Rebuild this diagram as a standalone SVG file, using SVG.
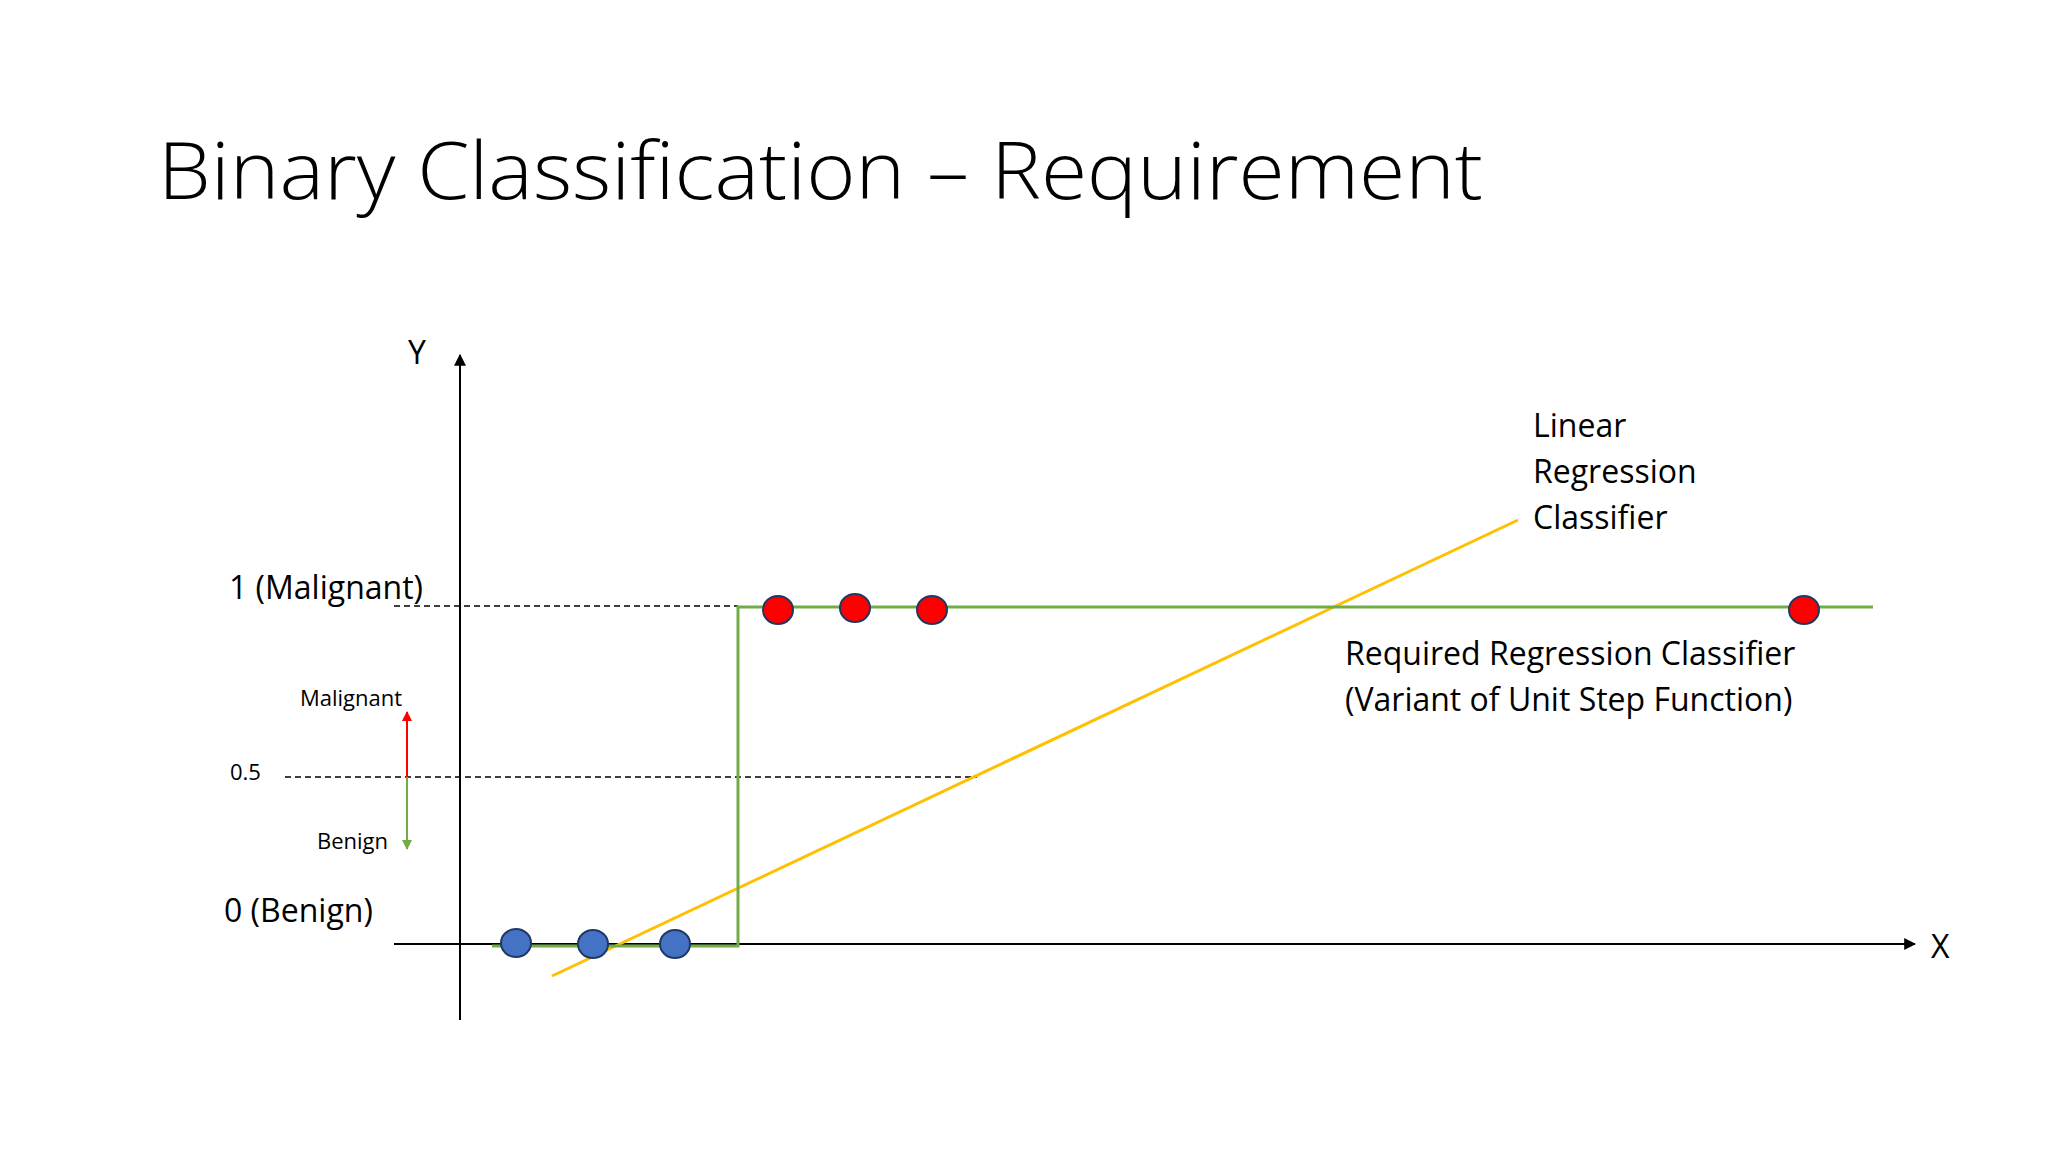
<svg xmlns="http://www.w3.org/2000/svg" width="2048" height="1152" viewBox="0 0 2048 1152">
<defs>
<style>
text{font-family:"Open Sans","Liberation Sans",sans-serif;fill:#000}
.lbl{font-size:32px}
.sm{font-size:22px}
.dash{stroke:#000;stroke-width:1.5;stroke-dasharray:6 4;fill:none}
.green{stroke:#70ad47;stroke-width:3;fill:none}
.red{fill:#ff0000;stroke:#1f3864;stroke-width:2}
.blue{fill:#4472c4;stroke:#1f3864;stroke-width:2}
</style>
<marker id="ab" viewBox="0 0 10 10" refX="9" refY="5" markerWidth="6" markerHeight="6" orient="auto-start-reverse"><path d="M0,0L10,5L0,10z" fill="#000"/></marker>
<marker id="ar" viewBox="0 0 10 10" refX="9" refY="5" markerWidth="5" markerHeight="5" orient="auto"><path d="M0,0L10,5L0,10z" fill="#ff0000"/></marker>
<marker id="ag" viewBox="0 0 10 10" refX="9" refY="5" markerWidth="5" markerHeight="5" orient="auto"><path d="M0,0L10,5L0,10z" fill="#70ad47"/></marker>
</defs>
<rect width="2048" height="1152" fill="#fff"/>
<text x="158" y="199" font-size="80" font-weight="300" textLength="1325" lengthAdjust="spacingAndGlyphs">Binary Classification – Requirement</text>
<g id="axes">
<line x1="460" y1="1020" x2="460" y2="355" stroke="#000" stroke-width="2" marker-end="url(#ab)"/>
<line x1="394" y1="944" x2="1915" y2="944" stroke="#000" stroke-width="2" marker-end="url(#ab)"/>
<text x="408" y="364" class="lbl">Y</text>
<text x="1931" y="958" class="lbl">X</text>
</g>
<g id="guides">
<line x1="394" y1="606" x2="738" y2="606" class="dash"/>
<line x1="285" y1="777" x2="977" y2="777" class="dash"/>
<text x="229" y="599" class="lbl">1 (Malignant)</text>
<text x="230" y="780" class="sm">0.5</text>
<text x="224" y="922" class="lbl">0 (Benign)</text>
<text x="300" y="706" class="sm">Malignant</text>
<text x="317" y="849" class="sm">Benign</text>
<line x1="407" y1="777" x2="407" y2="712" stroke="#ff0000" stroke-width="2" marker-end="url(#ar)"/>
<line x1="407" y1="777" x2="407" y2="849" stroke="#70ad47" stroke-width="2" marker-end="url(#ag)"/>
</g>
<g id="connectors">
<line x1="552" y1="976" x2="1518" y2="520" stroke="#ffc000" stroke-width="3"/>
<polyline points="492,946 738,946 738,607 1873,607" class="green"/>
</g>
<g id="points">
<ellipse cx="516" cy="943" rx="15" ry="14" class="blue"/>
<ellipse cx="593" cy="944" rx="15" ry="14" class="blue"/>
<ellipse cx="675" cy="944" rx="15" ry="14" class="blue"/>
<ellipse cx="778" cy="610" rx="15" ry="14" class="red"/>
<ellipse cx="855" cy="608" rx="15" ry="14" class="red"/>
<ellipse cx="932" cy="610" rx="15" ry="14" class="red"/>
<ellipse cx="1804" cy="610" rx="15" ry="14" class="red"/>
</g>
<g id="labels">
<text class="lbl" x="1533" y="437">Linear</text>
<text class="lbl" x="1533" y="483">Regression</text>
<text class="lbl" x="1533" y="529">Classifier</text>
<text class="lbl" x="1345" y="665">Required Regression Classifier</text>
<text class="lbl" x="1345" y="711">(Variant of Unit Step Function)</text>
</g>
</svg>
